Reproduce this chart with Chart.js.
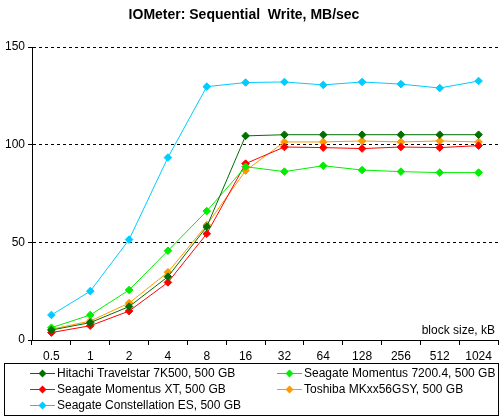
<!DOCTYPE html>
<html>
<head>
<meta charset="utf-8">
<script src="https://cdn.jsdelivr.net/npm/chart.js@4/dist/chart.umd.min.js"></script>
<style>
    html, body { margin: 0; padding: 0; background: #fff; }
    #wrap { position: relative; width: 503px; height: 419px; }
</style>
</head>
<body>
<div id="wrap"><canvas id="chart" width="503" height="419"></canvas></div>
<script>
// Block sizes (kB) on the x axis
const blockSizes = ['0.5', '1', '2', '4', '8', '16', '32', '64', '128', '256', '512', '1024'];

// MB/sec per drive
const hitachi = [5.1, 8.9, 17.1, 32.4, 58.0, 104.5, 105.1, 105.1, 105.1, 105.1, 105.1, 105.1];
const momentus72 = [6.3, 12.8, 25.6, 45.7, 66.0, 88.7, 86.2, 89.2, 87.0, 86.2, 85.7, 85.7];
const momentusXT = [3.8, 7.3, 14.8, 29.5, 54.4, 90.3, 98.8, 98.5, 98.0, 98.8, 98.5, 99.5];
const toshiba = [5.5, 9.7, 18.9, 34.7, 58.9, 86.7, 101.4, 101.4, 101.9, 101.4, 101.9, 101.4];
const constellation = [12.8, 25.0, 51.4, 93.4, 129.7, 131.8, 132.1, 130.6, 132.1, 131.0, 129.0, 132.6];

const yTicks = [0, 50, 100, 150];

const FONT = 'Liberation Sans';

function series(label, data, color) {
    return {
        label: label,
        data: data,
        borderColor: color,
        backgroundColor: color,
        borderWidth: 1,
        pointStyle: 'rectRot',
        pointRadius: 3.8,
        pointBorderWidth: 1,
        tension: 0
    };
}

// Title, axis caption and the boxed legend below the chart
const extras = {
    id: 'extras',
    afterDraw(chart) {
        const ctx = chart.ctx;
        ctx.save();
        ctx.fillStyle = '#000';
        ctx.textBaseline = 'middle';

        ctx.font = 'bold 14px ' + FONT;
        ctx.textAlign = 'center';
        ctx.fillText('IOMeter: Sequential  Write, MB/sec', 244, 15);

        ctx.font = '12px ' + FONT;
        ctx.textAlign = 'right';
        ctx.fillText('block size, kB', 495, 331);

        // legend box
        ctx.strokeStyle = '#000';
        ctx.lineWidth = 1;
        ctx.strokeRect(4.5, 363.5, 494, 52);

        const cols = [30, 277];
        const rows = [373, 389, 405];
        ctx.textAlign = 'left';
        chart.data.datasets.forEach((ds, i) => {
            const x = cols[i % 2];
            const y = rows[Math.floor(i / 2)] + 0.5;
            ctx.strokeStyle = ds.borderColor;
            ctx.beginPath();
            ctx.moveTo(x, y);
            ctx.lineTo(x + 25, y);
            ctx.stroke();
            ctx.fillStyle = ds.borderColor;
            ctx.beginPath();
            ctx.moveTo(x + 12.5, y - 4);
            ctx.lineTo(x + 16.5, y);
            ctx.lineTo(x + 12.5, y + 4);
            ctx.lineTo(x + 8.5, y);
            ctx.closePath();
            ctx.fill();
            ctx.fillStyle = '#000';
            ctx.fillText(ds.label, x + 27, y);
        });
        ctx.restore();
    }
};

new Chart(document.getElementById('chart'), {
    type: 'line',
    data: {
        labels: blockSizes,
        datasets: [
            series('Hitachi Travelstar 7K500, 500 GB', hitachi, '#007000'),
            series('Seagate Momentus 7200.4, 500 GB', momentus72, '#00ee00'),
            series('Seagate Momentus XT, 500 GB', momentusXT, '#ff0000'),
            series('Toshiba MKxx56GSY, 500 GB', toshiba, '#ff9900'),
            series('Seagate Constellation ES, 500 GB', constellation, '#00ccff')
        ]
    },
    options: {
        responsive: false,
        animation: false,
        layout: { padding: { top: 47, right: 0, left: 0, bottom: 0 } },
        plugins: {
            legend: { display: false },
            tooltip: { enabled: false },
            title: { display: false }
        },
        scales: {
            x: {
                offset: true,
                afterFit: s => { s.height = 79; },
                grid: {
                    offset: true,
                    drawOnChartArea: false,
                    drawTicks: true,
                    tickLength: 5,
                    color: '#000'
                },
                border: { display: true, color: '#000', width: 1 },
                ticks: { color: '#000', font: { family: FONT, size: 12 }, padding: 4, maxRotation: 0, autoSkip: false }
            },
            y: {
                min: 0,
                max: 150,
                afterFit: s => { s.width = 32; },
                afterBuildTicks: s => { s.ticks = yTicks.map(v => ({ value: v })); },
                grid: {
                    color: c => (c.tick && c.tick.value === 0 ? 'rgba(0,0,0,0)' : '#000'),
                    tickColor: '#000',
                    tickLength: 4,
                    lineWidth: 1
                },
                border: { display: true, color: '#000', width: 1, dash: [3, 3] },
                ticks: { color: '#000', font: { family: FONT, size: 12 }, padding: 3 }
            }
        }
    },
    plugins: [extras]
});
</script>
</body>
</html>
